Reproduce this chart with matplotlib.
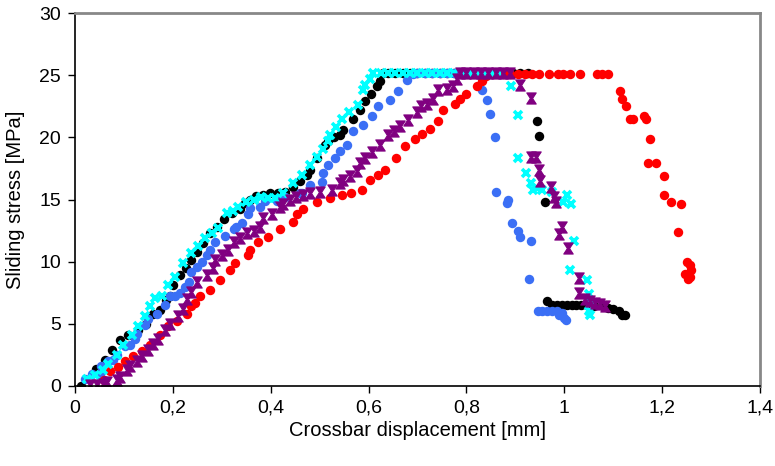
import matplotlib
matplotlib.use("Agg")
import matplotlib.pyplot as plt
from matplotlib.path import Path
import numpy as np

plt.rcParams['font.family'] = ['Liberation Sans', 'DejaVu Sans']

x_ticks = [0, 0.2, 0.4, 0.6, 0.8, 1.0, 1.2, 1.4]
x_tick_labels = ["0", "0,2", "0,4", "0,6", "0,8", "1", "1,2", "1,4"]
y_ticks = [0, 5, 10, 15, 20, 25, 30]
y_tick_labels = ["0", "5", "10", "15", "20", "25", "30"]
x_label = "Crossbar displacement [mm]"
y_label = "Sliding stress [MPa]"

black_x = [0.012, 0.043, 0.061, 0.075, 0.092, 0.109, 0.128, 0.146, 0.16, 0.174, 0.185, 0.194, 0.201, 0.215,
           0.227, 0.238, 0.249, 0.262, 0.276, 0.29, 0.305, 0.32, 0.337, 0.348, 0.358, 0.37, 0.385, 0.399,
           0.415, 0.43, 0.445, 0.46, 0.474, 0.48, 0.495, 0.511, 0.518, 0.53, 0.542, 0.548, 0.569, 0.582,
           0.593, 0.605, 0.617, 0.623, 0.63,
           0.64, 0.655, 0.67, 0.685, 0.70, 0.715, 0.73, 0.745, 0.76, 0.775, 0.79, 0.805, 0.82, 0.835,
           0.85, 0.865, 0.88, 0.895, 0.91, 0.925,
           0.945, 0.948, 0.961, 0.964, 0.974, 0.985, 0.995, 1.005, 1.015, 1.025, 1.035, 1.046, 1.06,
           1.08, 1.09, 1.1, 1.112, 1.117, 1.124]
black_y = [0.0, 1.4, 2.1, 2.9, 3.7, 4.1, 4.5, 5.0, 5.8, 6.1, 6.9, 7.2, 8.1, 8.9,
           9.5, 10.1, 10.8, 11.5, 12.3, 12.8, 13.4, 13.9, 14.2, 14.7, 15.0, 15.3, 15.4, 15.5,
           15.5, 15.6, 16.0, 16.5, 17.0, 17.4, 18.3, 19.4, 19.7, 20.0, 20.2, 20.6, 21.5, 22.2,
           22.9, 23.5, 24.1, 24.5, 25.2,
           25.2, 25.2, 25.2, 25.2, 25.2, 25.2, 25.2, 25.2, 25.2, 25.2, 25.2, 25.2, 25.2, 25.2,
           25.2, 25.2, 25.2, 25.2, 25.2, 25.2,
           21.3, 20.1, 14.8, 6.8, 6.5, 6.5, 6.5, 6.5, 6.5, 6.5, 6.5, 6.5, 6.4,
           6.4, 6.3, 6.2, 6.0, 5.7, 5.7]

blue_x = [0.02, 0.034, 0.051, 0.054, 0.068, 0.078, 0.085, 0.102, 0.112, 0.123, 0.126, 0.143, 0.15, 0.167,
          0.184, 0.194, 0.204, 0.215, 0.225, 0.232, 0.238, 0.25, 0.259, 0.269, 0.276, 0.286, 0.307, 0.324,
          0.33, 0.341, 0.354, 0.358, 0.378, 0.388, 0.412, 0.43, 0.46, 0.463, 0.48, 0.504, 0.507, 0.517,
          0.531, 0.542, 0.555, 0.568, 0.589, 0.606, 0.62, 0.644, 0.66, 0.678, 0.69,
          0.70, 0.715, 0.73, 0.745, 0.76, 0.775, 0.79, 0.805, 0.82,
          0.831, 0.843, 0.848, 0.858, 0.86, 0.882, 0.886, 0.894, 0.906, 0.909, 0.933, 0.928,
          0.947, 0.955, 0.965, 0.975, 0.985, 0.995, 1.0, 1.003, 0.99]
blue_y = [0.6, 1.0, 1.0, 1.6, 2.0, 2.1, 2.5, 3.2, 3.3, 3.8, 4.2, 4.9, 5.4, 5.8,
          6.5, 7.2, 7.2, 7.5, 8.0, 8.4, 9.2, 9.6, 10.0, 10.5, 10.9, 11.6, 12.1, 12.6,
          12.8, 13.1, 13.8, 14.3, 14.4, 14.9, 14.9, 15.2, 15.5, 15.5, 16.2, 16.4, 17.1, 17.8,
          18.3, 18.9, 19.4, 20.5, 21.0, 21.7, 22.5, 23.0, 23.7, 24.6, 25.1,
          25.2, 25.2, 25.2, 25.2, 25.2, 25.2, 25.2, 25.2, 25.2,
          23.8, 23.0, 21.9, 20.0, 15.6, 14.7, 15.0, 13.1, 12.5, 12.0, 11.7, 8.6,
          6.0, 6.0, 6.0, 6.0, 6.0, 5.9, 5.5, 5.3, 5.7]

red_x = [0.06, 0.072, 0.087, 0.102, 0.119, 0.136, 0.153, 0.174, 0.191, 0.208, 0.228, 0.238, 0.245, 0.255,
         0.276, 0.296, 0.317, 0.327, 0.354, 0.358, 0.375, 0.395, 0.419, 0.446, 0.453, 0.467, 0.494, 0.521,
         0.545, 0.565, 0.586, 0.603, 0.62, 0.634, 0.657, 0.674, 0.695, 0.71, 0.726, 0.742, 0.753, 0.777,
         0.787, 0.8, 0.821, 0.831, 0.841, 0.855,
         0.875, 0.89, 0.905, 0.92, 0.935, 0.948, 0.968, 0.988, 0.997, 1.012, 1.032, 1.066, 1.078, 1.09,
         1.114, 1.117, 1.126, 1.134, 1.14, 1.163, 1.168, 1.175, 1.172, 1.187, 1.204, 1.204, 1.219, 1.238,
         1.232, 1.25, 1.257, 1.26, 1.247, 1.253, 1.258]
red_y = [0.5, 1.2, 1.5, 2.0, 2.4, 2.8, 3.3, 4.1, 4.8, 5.2, 5.8, 6.4, 6.7, 7.2,
         7.7, 8.5, 9.3, 9.9, 10.5, 10.9, 11.6, 12.0, 12.6, 13.2, 13.8, 14.2, 14.8, 15.1,
         15.4, 15.5, 15.8, 16.6, 17.0, 17.4, 18.3, 19.3, 19.9, 20.3, 20.7, 21.3, 22.2, 22.7,
         23.1, 23.5, 24.1, 24.5, 24.9, 25.1,
         25.1, 25.1, 25.1, 25.1, 25.1, 25.1, 25.1, 25.1, 25.1, 25.1, 25.1, 25.1, 25.1, 25.1,
         23.7, 23.1, 22.5, 21.5, 21.5, 21.7, 21.5, 19.9, 17.9, 17.9, 16.9, 15.4, 14.8, 14.6,
         12.4, 10.0, 9.7, 9.3, 9.0, 8.6, 8.8]

cyan_x = [0.024, 0.041, 0.058, 0.068, 0.085, 0.099, 0.116, 0.129, 0.143, 0.153, 0.163, 0.177, 0.191, 0.204,
          0.221, 0.238, 0.252, 0.266, 0.28, 0.293, 0.31, 0.322, 0.334, 0.35, 0.365, 0.38, 0.395, 0.409,
          0.426, 0.446, 0.463, 0.48, 0.494, 0.507, 0.518, 0.521, 0.533, 0.545, 0.56, 0.579, 0.589, 0.593,
          0.602, 0.61,
          0.625, 0.64, 0.655, 0.67, 0.685, 0.70, 0.715, 0.73, 0.745, 0.76, 0.775, 0.79, 0.805, 0.82,
          0.835, 0.85, 0.865,
          0.892, 0.906, 0.906, 0.922, 0.931, 0.936, 0.944, 0.954, 0.974, 1.005, 0.997, 1.014, 1.02,
          1.012, 1.046, 1.05, 1.055, 1.05, 1.052]
cyan_y = [0.6, 0.9, 1.3, 1.8, 2.5, 3.3, 4.1, 4.8, 5.6, 6.4, 7.1, 7.2, 8.1, 8.8,
          9.9, 10.7, 11.3, 11.9, 12.3, 12.7, 13.9, 14.1, 14.4, 14.8, 15.0, 15.2, 15.1, 15.1,
          15.5, 16.3, 17.0, 17.8, 18.4, 19.1, 19.7, 20.2, 20.8, 21.5, 22.0, 22.6, 23.8, 24.2,
          24.7, 25.2,
          25.2, 25.2, 25.2, 25.2, 25.2, 25.2, 25.2, 25.2, 25.2, 25.2, 25.2, 25.2, 25.2, 25.2,
          25.2, 25.2, 25.2,
          24.1, 21.8, 18.3, 17.1, 16.3, 15.8, 15.9, 15.8, 15.6, 15.4, 14.8, 14.6, 11.7,
          9.3, 8.5, 7.4, 6.7, 6.0, 5.7]

purple_x = [0.031, 0.044, 0.058, 0.065, 0.085, 0.092, 0.106, 0.112, 0.126, 0.136, 0.15, 0.16, 0.17, 0.184,
            0.194, 0.211, 0.221, 0.228, 0.238, 0.249, 0.269, 0.283, 0.286, 0.3, 0.313, 0.324, 0.337, 0.351,
            0.365, 0.378, 0.385, 0.402, 0.419, 0.426, 0.439, 0.452, 0.466, 0.48, 0.5, 0.525, 0.542, 0.548,
            0.562, 0.576, 0.582, 0.592, 0.606, 0.623, 0.64, 0.652, 0.664, 0.681, 0.698, 0.708, 0.72, 0.732,
            0.742, 0.76, 0.773, 0.78, 0.787,
            0.80, 0.815, 0.83, 0.845, 0.86, 0.875, 0.89,
            0.909, 0.931, 0.932, 0.942, 0.948, 0.95, 0.972, 0.978, 0.983, 0.995, 0.99, 1.007, 1.031, 1.031,
            1.042, 1.053, 1.063, 1.073, 1.083]
purple_y = [0.1, 0.1, 0.2, 0.3, 0.5, 0.7, 1.3, 1.6, 2.0, 2.4, 2.9, 3.4, 3.8, 4.5,
            5.0, 5.6, 6.2, 7.0, 7.6, 8.4, 8.9, 9.5, 10.1, 10.5, 10.9, 11.6, 11.9, 12.3,
            12.5, 12.8, 13.5, 13.8, 14.4, 14.6, 15.0, 15.2, 15.4, 15.5, 15.6, 15.8, 16.3, 16.6,
            16.9, 17.3, 17.9, 18.3, 18.8, 19.4, 20.2, 20.5, 20.9, 21.4, 22.0, 22.5, 22.7, 23.1,
            23.8, 23.9, 24.1, 24.7, 25.2,
            25.2, 25.2, 25.2, 25.2, 25.2, 25.2, 25.2,
            24.2, 23.2, 18.4, 18.4, 17.4, 16.5, 16.0, 15.2, 14.8, 12.8, 12.2, 11.1, 8.7, 7.5,
            7.0, 6.8, 6.7, 6.6, 6.4]

hourglass = Path([(-0.85, 1), (0.85, 1), (0.2, 0), (0.85, -1), (-0.85, -1), (-0.2, 0), (-0.85, 1)],
                 [Path.MOVETO, Path.LINETO, Path.LINETO, Path.LINETO, Path.LINETO, Path.LINETO,
                  Path.CLOSEPOLY])

fig = plt.figure(figsize=(7.75, 4.66), dpi=100)
ax = fig.add_axes([0.0968, 0.1717, 0.8838, 0.8003])

ax.plot(black_x, black_y, linestyle='none', marker='o', markersize=6.8, color='black', markeredgewidth=0)
ax.plot(blue_x, blue_y, linestyle='none', marker='o', markersize=6.8, color='#3b6ff5', markeredgewidth=0)
ax.plot(red_x, red_y, linestyle='none', marker='o', markersize=6.8, color='#ff0000', markeredgewidth=0)
ax.plot(cyan_x, cyan_y, linestyle='none', marker='x', markersize=6, color='#00ffff', markeredgewidth=2.6)
ax.plot(purple_x, purple_y, linestyle='none', marker=hourglass, markersize=8, color='#800080',
        markeredgewidth=0.8)

ax.set_xlim(0, 1.4)
ax.set_ylim(0, 30)
ax.set_xticks(x_ticks)
ax.set_xticklabels(x_tick_labels)
ax.set_yticks(y_ticks)
ax.set_yticklabels(y_tick_labels)
ax.tick_params(direction='out', length=5, width=1, labelsize=14, colors='black', pad=5)
ax.set_xlabel(x_label, fontsize=14.5, labelpad=3)
ax.set_ylabel(y_label, fontsize=14.5, labelpad=10)

ax.spines['left'].set_color('black')
ax.spines['bottom'].set_color('black')
ax.spines['left'].set_linewidth(1.2)
ax.spines['bottom'].set_linewidth(1.2)
ax.spines['top'].set_color('#888888')
ax.spines['right'].set_color('#888888')
ax.spines['top'].set_linewidth(2)
ax.spines['right'].set_linewidth(2)

fig.savefig('out.png', dpi=100)
